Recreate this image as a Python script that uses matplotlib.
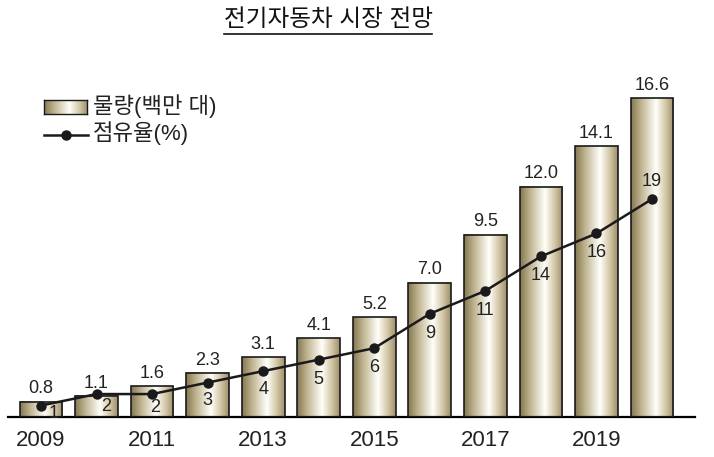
import numpy as np
import matplotlib
matplotlib.use('Agg')
import matplotlib.pyplot as plt
from matplotlib.lines import Line2D
from matplotlib.colors import LinearSegmentedColormap

plt.rcParams['font.family'] = ['Liberation Sans', 'Noto Sans CJK KR']

##-----------------------------------------
## data
##-----------------------------------------
years = [2009, 2010, 2011, 2012, 2013, 2014, 2015, 2016, 2017, 2018, 2019, 2020]
volume = [0.8, 1.1, 1.6, 2.3, 3.1, 4.1, 5.2, 7.0, 9.5, 12.0, 14.1, 16.6]
volume_labels = ['0.8', '1.1', '1.6', '2.3', '3.1', '4.1', '5.2', '7.0', '9.5', '12.0', '14.1', '16.6']
share = [1, 2, 2, 3, 4, 5, 6, 9, 11, 14, 16, 19]
tick_years = [2009, 2011, 2013, 2015, 2017, 2019]
title = '전기자동차 시장 전망'
legend_bar = '물량(백만 대)'
legend_line = '점유율(%)'

# offsets (points) of the share labels relative to the markers
share_offsets = [(9, -6), (7, -9), (2, -10), (0, -13), (0, -13), (0, -14),
                 (0, -14), (0, -14), (0, -14), (0, -14), (0, -14), (0, 13)]

##-----------------------------------------
## figure
##-----------------------------------------
W, H = 714, 457
fig = plt.figure(figsize=(W / 100, H / 100), dpi=100)

def px(x0, y0, x1, y1):
    # pixel box (top-left origin) -> figure fraction rect
    return [x0 / W, 1 - y1 / H, (x1 - x0) / W, (y1 - y0) / H]

ax = fig.add_axes(px(8, 60, 695, 417))
x = np.arange(len(years))

grad_cmap = LinearSegmentedColormap.from_list('gold', [
    (0.00, (0.52, 0.47, 0.32)),
    (0.22, (0.74, 0.69, 0.55)),
    (0.58, (1.00, 1.00, 0.98)),
    (0.82, (0.82, 0.77, 0.64)),
    (1.00, (0.62, 0.56, 0.42))])
grad = np.linspace(0, 1, 256).reshape(1, -1)

width = 0.77
bars = ax.bar(x, volume, width=width, facecolor='none', edgecolor='#1a1a1a',
              linewidth=1.2, zorder=3)
for b in bars:
    x0, w, h = b.get_x(), b.get_width(), b.get_height()
    ax.imshow(grad, cmap=grad_cmap, extent=[x0, x0 + w, 0, h],
              aspect='auto', zorder=2, interpolation='bicubic')
ax.set_xlim(-0.594, 11.774)
ax.set_ylim(0, 357 / 19.2)

for xi, v, lab in zip(x, volume, volume_labels):
    ax.annotate(lab, (xi, v), xytext=(0, 3), textcoords='offset points',
                ha='center', va='bottom', fontsize=13, color='#222222')

for s in ['top', 'left', 'right']:
    ax.spines[s].set_visible(False)
ax.spines['bottom'].set_linewidth(1.6)
ax.set_yticks([])
ax.set_xticks([years.index(t) for t in tick_years])
ax.set_xticklabels([str(t) for t in tick_years], fontsize=16, color='#222222')
ax.tick_params(axis='x', length=0, pad=9)

ax2 = ax.twinx()
ax2.set_ylim(0, 357 / 11.47)
ax2.set_yticks([])
for s in ['top', 'left', 'right', 'bottom']:
    ax2.spines[s].set_visible(False)
ax2.plot(x, share, color='#1a1a1a', linewidth=1.8, marker='o', markersize=6.5, zorder=5)
for xi, s, off in zip(x, share, share_offsets):
    ax2.annotate(str(s), (xi, s), xytext=off, textcoords='offset points',
                 ha='center', va='center', fontsize=13, color='#222222')

##-----------------------------------------
## legend (drawn by hand for the gradient swatch)
##-----------------------------------------
lax = fig.add_axes(px(44, 100, 87, 114))
lax.imshow(grad, cmap=grad_cmap, aspect='auto', interpolation='bicubic')
lax.set_xticks([])
lax.set_yticks([])
for s in lax.spines.values():
    s.set_linewidth(1.0)
    s.set_color('#1a1a1a')
fig.text(93 / W, 1 - 106 / H, legend_bar, fontsize=16, va='center', ha='left', color='#222222')
fig.add_artist(Line2D([44 / W, 88 / W], [1 - 135 / H, 1 - 135 / H], color='#1a1a1a',
                      linewidth=1.8, transform=fig.transFigure))
fig.add_artist(Line2D([66 / W], [1 - 135 / H], color='#1a1a1a', marker='o',
                      markersize=6.5, transform=fig.transFigure))
fig.text(93 / W, 1 - 133 / H, legend_line, fontsize=16, va='center', ha='left', color='#222222')

##-----------------------------------------
## title with underline
##-----------------------------------------
t = fig.text(328 / W, 1 - 20 / H, title, fontsize=17, ha='center', va='center', color='#111111')
fig.canvas.draw()
bb = t.get_window_extent(fig.canvas.get_renderer()).transformed(fig.transFigure.inverted())
fig.add_artist(Line2D([bb.x0, bb.x1], [1 - 34 / H, 1 - 34 / H], color='#111111',
                      linewidth=1.2, transform=fig.transFigure))

plt.savefig('out.png', dpi=100)
plt.close()
